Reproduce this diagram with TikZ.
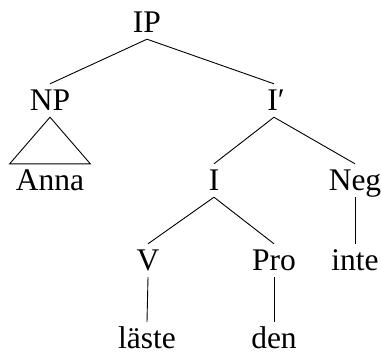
\documentclass[tikz,border=0pt]{standalone}
\usepackage{fontspec}
\setmainfont{Liberation Serif}
\usepackage{tikz}
\usetikzlibrary{calc}

\begin{document}
\begin{tikzpicture}[x=1pt,y=-1pt]
		\useasboundingbox (0,0) rectangle (381,354);
		\begin{scope}[every node/.style={anchor=base,inner xsep=0pt,inner ysep=2pt,text height=24pt,text depth=5pt,font=\fontsize{31.5}{36}\selectfont}]
		\node (IP) at (147,32) {IP};
		\node (NP) at (50,110) {NP};
		\node (Ibar) at (276,110) {I′};
		\node (Anna) at (50,190) {Anna};
		\node (I) at (214,190) {I};
		\node (Neg) at (355,190) {Neg};
		\node (V) at (148,270) {V};
		\node (Pro) at (274,270) {Pro};
		\node (inte) at (355,270) {inte};
		\node (laste) at (147,348) {läste};
		\node (den) at (274,348) {den};
		\end{scope}

		\begin{scope}[every edge/.style={draw=black,line width=0.9pt}]
		\path [-] (IP.south) edge (NP.north);
		\path [-] (IP.south) edge ([xshift=-2pt]Ibar.north);
		\path [-] ([xshift=-2pt]Ibar.south) edge (I.north);
		\path [-] ([xshift=-2pt]Ibar.south) edge (Neg.north);
		\path [-] (I.south) edge (V.north);
		\path [-] (I.south) edge (Pro.north);
		\path [-] (Neg.south) edge (inte.north);
		\path [-] (V.south) edge (laste.north);
		\path [-] (Pro.south) edge (den.north);
		\draw [line width=0.9pt] (NP.south) -- ([xshift=-6pt]Anna.north west) -- ([xshift=6pt]Anna.north east) -- cycle;
		\end{scope}
		\end{tikzpicture}
\end{document}
